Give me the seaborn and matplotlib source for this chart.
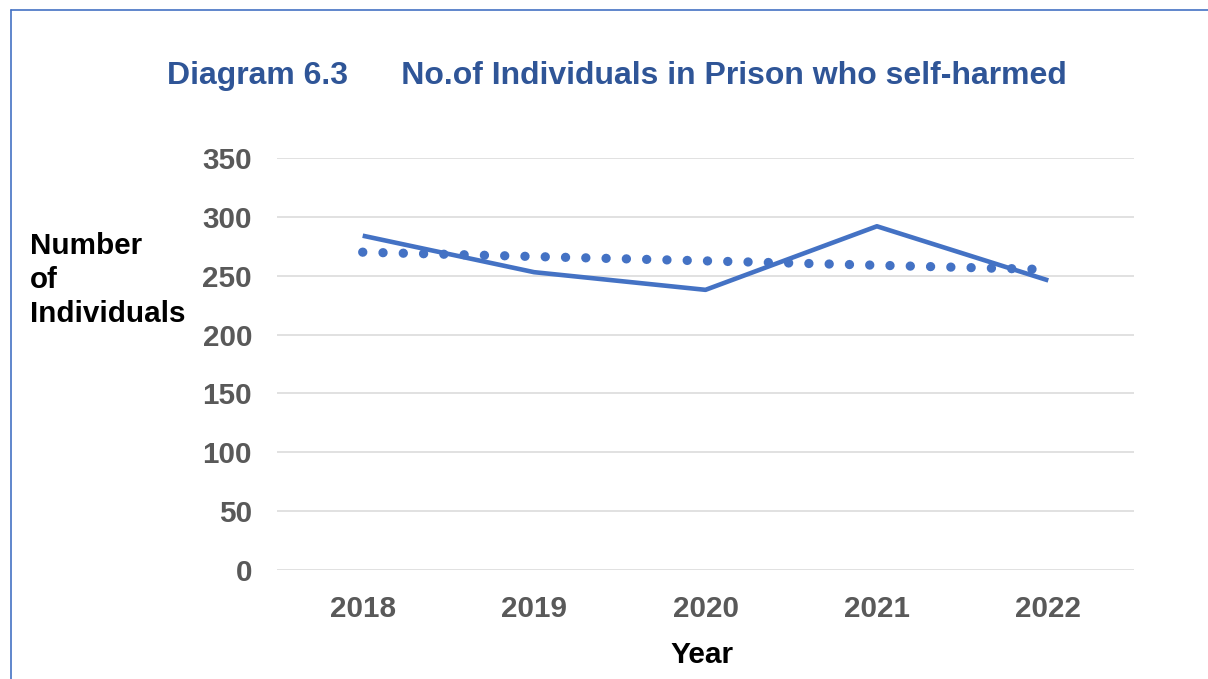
import matplotlib
matplotlib.use("Agg")
import matplotlib.pyplot as plt
import seaborn as sns
import pandas as pd
from matplotlib.lines import Line2D

years = [2018, 2019, 2020, 2021, 2022]
individuals = [284, 253, 238, 292, 246]
y_ticks = [0, 50, 100, 150, 200, 250, 300, 350]

title = "Diagram 6.3      No.of Individuals in Prison who self-harmed"
ylabel = "Number\nof\nIndividuals"
xlabel = "Year"

df = pd.DataFrame({"Year": years, "Individuals": individuals})

sns.set_theme(style="white")
plt.rcParams["font.family"] = ["Liberation Sans", "DejaVu Sans"]

W, H = 1208, 679
fig = plt.figure(figsize=(W / 100, H / 100), dpi=100)
ax = fig.add_axes([277 / W, 1 - 570 / H, (1134 - 277) / W, (570 - 158) / H])

line_color = "#4472C4"
sns.lineplot(data=df, x="Year", y="Individuals", ax=ax, color=line_color,
             linewidth=3.3, solid_capstyle="butt", zorder=3)
sns.regplot(data=df, x="Year", y="Individuals", ax=ax, ci=None, scatter=False,
            color=line_color,
            line_kws=dict(linewidth=6.7, dashes=(0.01, 2.17), dash_capstyle="round", zorder=4))

ax.set_xlim(2017.5, 2022.5)
ax.set_ylim(0, 350)
ax.set_yticks(y_ticks)
ax.set_xticks(years)
ax.set_xticklabels([str(y) for y in years])
ax.grid(axis="y", color="#D9D9D9", linewidth=1.1)
ax.grid(axis="x", visible=False)
ax.set_axisbelow(True)
for s in ax.spines.values():
    s.set_visible(False)
ax.tick_params(axis="both", length=0, labelsize=21.3, labelcolor="#595959")
ax.tick_params(axis="y", pad=18)
ax.tick_params(axis="x", pad=18)
for lab in ax.get_xticklabels() + ax.get_yticklabels():
    lab.set_fontweight("bold")
ax.set_xlabel("")
ax.set_ylabel("")

fig.text(167 / W, 1 - 76 / H, title, fontsize=23, fontweight="bold",
         color="#2F5597", ha="left", va="center")
fig.text(30 / W, 1 - 280 / H, ylabel, fontsize=21.3, fontweight="bold",
         color="black", ha="left", va="center", linespacing=1.26)
fig.text(702 / W, 1 - 655 / H, xlabel, fontsize=21.5, fontweight="bold",
         color="black", ha="center", va="center")

# outer border (left and top edges visible)
fig.add_artist(Line2D([11 / W, 11 / W], [0, 1 - 10 / H], transform=fig.transFigure,
                      color="#4472C4", linewidth=1.2))
fig.add_artist(Line2D([11 / W, 1], [1 - 10 / H, 1 - 10 / H], transform=fig.transFigure,
                      color="#4472C4", linewidth=1.2))

fig.savefig("out.png", dpi=100)
